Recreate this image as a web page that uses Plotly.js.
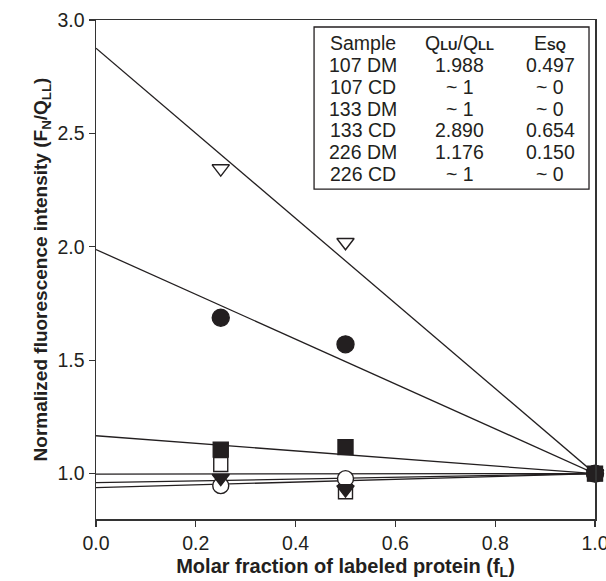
<!DOCTYPE html>
<html>
<head>
<meta charset="utf-8">
<script src="https://cdn.plot.ly/plotly-3.0.1.min.js"></script>
<style>html,body{margin:0;padding:0;background:#fff;}#chart{width:606px;height:581px;}</style>
</head>
<body>
<div id="chart"></div>
<script>
// ---- data ----
const fractions = [0.25, 0.5, 1.0];
const dm107 = [1.687, 1.570, 1.0];   // filled circle
const cd107 = [0.947, 0.978, 1.0];   // open circle
const dm133 = [0.980, 0.930, 1.0];   // filled triangle down
const cd133 = [2.345, 2.020, 1.0];   // open triangle down
const dm226 = [1.106, 1.117, 1.0];   // filled square
const cd226 = [1.040, 0.920, 1.0];   // open square

// fitted lines: value at f=0 and at f=1
const lineX = [0, 1];
const fit107DM = [1.988, 1.0];
const fit107CD = [0.938, 1.0];
const fit133DM = [0.960, 1.0];
const fit133CD = [2.876, 1.0];
const fit226DM = [1.167, 1.0];
const fit226CD = [0.998, 1.0];

// table
const tblSamples = ["107 DM", "107 CD", "133 DM", "133 CD", "226 DM", "226 CD"];
const tblQ = ["1.988", "~ 1", "~ 1", "2.890", "1.176", "~ 1"];
const tblE = ["0.497", "~ 0", "~ 0", "0.654", "0.150", "~ 0"];
const subS = "<span style='font-size:13px'><b>";
const subE = "</b></span>";
const tblHeader = ["Sample", "Q" + subS + "LU" + subE + "/Q" + subS + "LL" + subE, "E" + subS + "SQ" + subE];

// tick labels
const xTicks = [0, 0.2, 0.4, 0.6, 0.8, 1.0];
const xTickText = ["0.0", "0.2", "0.4", "0.6", "0.8", "1.0"];
const yTicks = [1.0, 1.5, 2.0, 2.5, 3.0];
const yTickText = ["1.0", "1.5", "2.0", "2.5", "3.0"];

const ink = "#231f20";
const FONT = "Liberation Sans, Arial, sans-serif";
const fits = [fit107DM, fit107CD, fit133DM, fit133CD, fit226DM, fit226CD];
const traces = fits.map(f => ({
  x: lineX, y: f, mode: "lines", type: "scatter",
  line: {color: ink, width: 1.3}, hoverinfo: "skip", showlegend: false
}));

function mk(y, symbol, size, fill) {
  return {
    x: fractions, y: y, mode: "markers", type: "scatter", showlegend: false,
    cliponaxis: false,
    marker: {symbol: symbol, size: size, color: fill,
             line: {color: ink, width: 1.4}}
  };
}
traces.push(mk(cd133, "triangle-down", 15, "#ffffff"));
traces.push(mk(cd107, "circle", 16, "#ffffff"));
traces.push(mk(cd226, "square", 14, "#ffffff"));
traces.push(mk(dm133, "triangle-down", 15, ink));
traces.push(mk(dm107, "circle", 17, ink));
traces.push(mk(dm226, "square", 15, ink));

const annotations = [];
const colX = [0.535, 0.729, 0.910];
const rowTop = 0.953, rowStep = 0.0435;
const tf = {family: FONT, size: 19.5, color: ink};
tblHeader.forEach((h, j) => annotations.push({
  xref: "paper", yref: "paper", x: colX[j], y: rowTop, text: h,
  showarrow: false, xanchor: "center", yanchor: "middle", font: tf
}));
tblSamples.forEach((s, i) => {
  const row = [s, tblQ[i], tblE[i]];
  row.forEach((t, j) => annotations.push({
    xref: "paper", yref: "paper", x: colX[j], y: rowTop - rowStep * (i + 1),
    text: t, showarrow: false, xanchor: "center", yanchor: "middle", font: tf
  }));
});

const axisCommon = {
  showgrid: false, zeroline: false, showline: true, mirror: true,
  linecolor: "#333333", linewidth: 1.5, ticks: "outside", ticklen: 6,
  tickwidth: 1.2, tickcolor: "#333333", ticklabeloverflow: "allow",
  tickfont: {family: FONT, size: 19.5, color: ink}
};

const layout = {
  width: 606, height: 581,
  margin: {l: 96, r: 11, t: 20, b: 62},
  paper_bgcolor: "#ffffff", plot_bgcolor: "#ffffff",
  xaxis: Object.assign({}, axisCommon, {
    range: [0, 1.0], tickvals: xTicks, ticktext: xTickText,
    title: {text: "<b>Molar fraction of labeled protein (f<sub>L</sub>)</b>", standoff: 6,
            font: {family: FONT, size: 20, color: ink}}
  }),
  yaxis: Object.assign({}, axisCommon, {
    range: [0.8, 3.0], tickvals: yTicks, ticktext: yTickText,
    title: {text: "<b>Normalized fluorescence intensity (F<sub>N</sub>/Q<sub>LL</sub>)</b>", standoff: 5,
            font: {family: FONT, size: 19, color: ink}}
  }),
  shapes: [{
    type: "rect", xref: "paper", yref: "paper",
    x0: 0.437, x1: 0.988, y0: 0.661, y1: 0.986,
    line: {color: ink, width: 1.3}, fillcolor: "rgba(0,0,0,0)"
  }],
  annotations: annotations
};

Plotly.newPlot("chart", traces, layout, {displayModeBar: false, staticPlot: true});
</script>
</body>
</html>
